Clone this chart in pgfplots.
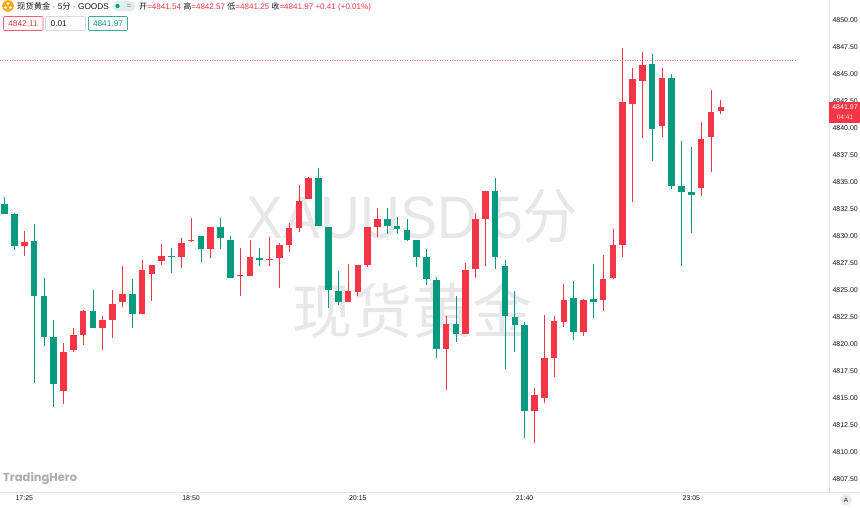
\documentclass[border=0pt]{standalone}
\usepackage{fontspec}
\setmainfont{Liberation Sans}
\newfontfamily\cjk{Noto Sans CJK SC}
\newfontfamily\brand[Scale=1]{Poppins}
\usepackage{pgfplots}
\usepackage{pgfplotstable}
\pgfplotsset{compat=1.18}
\definecolor{upc}{HTML}{F23645}
\definecolor{dnc}{HTML}{089981}
\definecolor{wm}{HTML}{E7E7E9}
\definecolor{grid}{HTML}{E0E3EB}
\definecolor{ink}{HTML}{131722}
\pgfplotstableread{
i open high low close
2 4829.10 4830.46 4828.18 4829.47
6 4815.62 4820.09 4814.44 4819.26
7 4819.41 4821.45 4819.29 4820.83
8 4820.86 4823.15 4819.91 4823.09
10 4821.51 4822.59 4819.44 4822.22
11 4822.25 4825.00 4820.59 4823.70
12 4823.89 4827.25 4823.46 4824.63
14 4822.81 4827.78 4822.81 4826.88
15 4826.51 4827.28 4824.01 4827.28
16 4827.71 4829.26 4827.31 4828.15
18 4828.09 4829.78 4827.01 4829.38
19 4829.51 4831.63 4829.41 4829.63
21 4828.83 4830.86 4827.99 4830.83
24 4826.27 4828.86 4824.45 4826.36
25 4826.33 4829.63 4826.33 4828.06
27 4827.81 4829.88 4827.23 4827.87
28 4827.97 4829.39 4825.22 4829.17
29 4829.20 4831.18 4828.55 4830.71
30 4830.71 4834.73 4830.40 4833.24
31 4833.46 4835.50 4833.40 4835.40
35 4823.89 4827.41 4823.89 4824.88
36 4824.85 4827.32 4824.48 4827.32
37 4827.29 4830.81 4827.16 4830.81
38 4830.84 4832.56 4829.88 4831.61
45 4819.54 4822.59 4815.74 4821.88
47 4820.92 4827.47 4820.92 4826.88
48 4826.91 4832.10 4826.14 4831.60
49 4831.60 4834.17 4827.25 4834.17
54 4813.83 4815.89 4810.86 4815.31
55 4814.97 4822.68 4814.57 4818.70
56 4818.73 4822.62 4816.91 4822.13
57 4822.04 4825.55 4821.60 4824.10
59 4821.11 4824.13 4820.77 4824.10
61 4824.10 4828.24 4823.05 4826.02
62 4826.11 4830.65 4825.99 4829.17
63 4829.20 4847.38 4828.03 4842.41
64 4842.25 4845.59 4833.18 4844.54
65 4844.35 4847.01 4839.05 4845.84
67 4840.22 4845.53 4839.20 4844.60
71 4834.42 4840.53 4833.74 4838.95
72 4839.20 4843.52 4835.96 4841.48
73 4841.54 4842.57 4841.25 4841.97
}\upcandles
\pgfplotstableread{
i open high low close
0 4832.96 4833.64 4832.07 4832.07
1 4832.04 4832.16 4828.70 4829.10
3 4829.51 4831.08 4816.36 4824.47
4 4824.44 4826.11 4819.81 4820.62
5 4820.65 4822.22 4814.20 4816.30
9 4823.09 4825.00 4821.51 4821.51
13 4824.63 4825.99 4821.51 4822.81
17 4828.15 4828.86 4826.60 4828.05
20 4830.00 4830.00 4827.56 4828.80
22 4830.84 4831.70 4828.80 4829.82
23 4829.63 4830.00 4826.11 4826.11
26 4827.94 4828.86 4827.23 4827.81
32 4835.37 4836.27 4830.96 4830.96
33 4830.84 4830.87 4823.37 4824.97
34 4824.91 4826.76 4823.61 4823.92
39 4831.58 4832.56 4830.19 4830.96
40 4830.93 4831.73 4830.19 4830.62
41 4830.53 4831.55 4829.57 4829.63
42 4829.63 4829.63 4827.16 4828.09
43 4828.02 4828.76 4825.46 4826.05
44 4825.96 4826.17 4818.73 4819.54
46 4821.88 4824.44 4820.21 4820.92
50 4834.17 4835.34 4826.97 4828.05
51 4827.25 4827.78 4817.68 4822.59
52 4822.50 4824.91 4819.26 4821.76
53 4821.73 4822.01 4811.33 4813.80
58 4824.23 4825.86 4820.34 4821.11
60 4824.13 4827.41 4822.44 4823.92
66 4845.93 4846.82 4836.95 4839.91
68 4844.60 4844.97 4834.35 4834.66
69 4834.63 4838.83 4827.22 4834.11
70 4834.08 4838.27 4830.31 4833.83
}\downcandles
\newcommand{\hdr}{\fontsize{8.3}{10}\selectfont}
\begin{document}
\begin{tikzpicture}[x=1pt,y=1pt]
\useasboundingbox (0,-15) rectangle (860,492);
% watermark, beneath the candles
\node[text=wm,anchor=center,inner sep=0pt,xscale=0.92] at (412.5,492-216)
  {\fontsize{60}{60}\selectfont XAUUSD 5{\cjk 分}};
\node[text=wm,anchor=center,inner sep=0pt] at (412,492-311)
  {\fontsize{60}{60}\selectfont\cjk 现货黄金};
\begin{axis}[
  anchor=south west, at={(0,0)},
  scale only axis, width=829pt, height=492pt,
  xmin=-0.479, xmax=84.03, ymin=4806.30, ymax=4851.85,
  axis x line*=bottom, axis y line*=right,
  axis line style={color=grid,line width=0.8pt},
  xtick={2,19,36,53,70},
  xticklabels={17:25,18:50,20:15,21:40,23:05},
  ytick={4807.5,4810,4812.5,4815,4817.5,4820,4822.5,4825,4827.5,4830,4832.5,4835,4837.5,4840,4842.5,4845,4847.5,4850},
  major tick length=0pt,
  tick label style={font=\fontsize{7}{8}\selectfont,text=ink},
  yticklabel style={/pgf/number format/.cd,fixed,fixed zerofill,precision=2,1000 sep={},assume math mode=true},
  yticklabel pos=right,
  grid=none,
]
\addplot[upc!70,line width=0.6pt,dash pattern=on 0.8pt off 1.7pt,forget plot] coordinates {(-0.479,4846.25)(80.8,4846.25)};
% wicks
\addplot[draw=none,no markers,forget plot,error bars/.cd,y dir=plus,y explicit,error mark=none,
  error bar style={draw=upc,line width=0.7pt}]
  table[x=i,y=low,y error plus expr=\thisrow{high}-\thisrow{low}] {\upcandles};
\addplot[draw=none,no markers,forget plot,error bars/.cd,y dir=plus,y explicit,error mark=none,
  error bar style={draw=dnc,line width=0.7pt}]
  table[x=i,y=low,y error plus expr=\thisrow{high}-\thisrow{low}] {\downcandles};
% bodies
\addplot[draw=none,no markers,forget plot,error bars/.cd,y dir=plus,y explicit,error mark=none,
  error bar style={draw=upc,line width=6.6pt}]
  table[x=i,y=open,y error plus expr=\thisrow{close}-\thisrow{open}] {\upcandles};
\addplot[draw=none,no markers,forget plot,error bars/.cd,y dir=plus,y explicit,error mark=none,
  error bar style={draw=dnc,line width=6.6pt}]
  table[x=i,y=close,y error plus expr=\thisrow{open}-\thisrow{close}] {\downcandles};
\end{axis}
\begin{scope}[yshift=492pt,y=-1pt]
  % bottom rule to the edge
  \draw[grid,line width=0.8pt] (829,492) -- (860,492);
  % price tag
  \fill[upc] (828.5,102) rectangle (860,122.7);
  \node[text=white,font=\fontsize{7}{8}\selectfont,inner sep=0pt] at (845,107.5) {4841.97};
  \node[text=white!80!upc,font=\fontsize{6.5}{8}\selectfont,inner sep=0pt] at (845,117.5) {04:41};
  % auto button
  \fill[black!8] (846,500) circle (5.8);
  \node[text=ink,font=\fontsize{6.5}{8}\selectfont,inner sep=0pt] at (846,500) {A};
  % brand
  \node[anchor=west,text=black!32,inner sep=0pt,font=\fontsize{11.5}{12}\selectfont\bfseries\brand] at (3,478) {TradingHero};
  % header
  \fill[orange!70!yellow] (8,6) circle (5.8);
  \fill[white] (8,3.6) circle (1.6) (5.7,7.6) circle (1.6) (10.3,7.6) circle (1.6);
  \node[anchor=west,text=ink,inner sep=0pt,font=\hdr] at (17,6.5) {{\cjk 现货黄金} · 5{\cjk 分} · GOODS};
  \fill[dnc!14,rounded corners=5.5pt] (112.5,0.5) rectangle (135.5,11.5);
  \fill[dnc] (117.5,6) circle (2.1);
  \node[text=upc!60!orange,inner sep=0pt,font=\hdr] at (129,6) {=};
  \node[anchor=west,inner sep=0pt,font=\fontsize{8.05}{10}\selectfont,text=ink] at (139,6.5)
    {{\cjk 开}\textcolor{upc}{=4841.54} {\cjk 高}\textcolor{upc}{=4842.57} {\cjk 低}\textcolor{upc}{=4841.25} {\cjk 收}\textcolor{upc}{=4841.97 +0.41 (+0.01\%)}};
  \draw[upc!80,line width=0.6pt,rounded corners=1pt] (3.5,16.5) rectangle (43,30.5);
  \node[text=upc,inner sep=0pt,font=\hdr] at (23,23.5) {4842.11};
  \draw[black!15,line width=0.6pt,rounded corners=1pt] (45.5,16.5) rectangle (85.5,30.5);
  \node[anchor=west,text=ink,inner sep=0pt,font=\hdr] at (50.5,23.5) {0.01};
  \draw[dnc!80,line width=0.6pt,rounded corners=1pt] (88.5,16.5) rectangle (127.5,30.5);
  \node[text=dnc,inner sep=0pt,font=\hdr] at (108,23.5) {4841.97};
\end{scope}
\end{tikzpicture}
\end{document}
